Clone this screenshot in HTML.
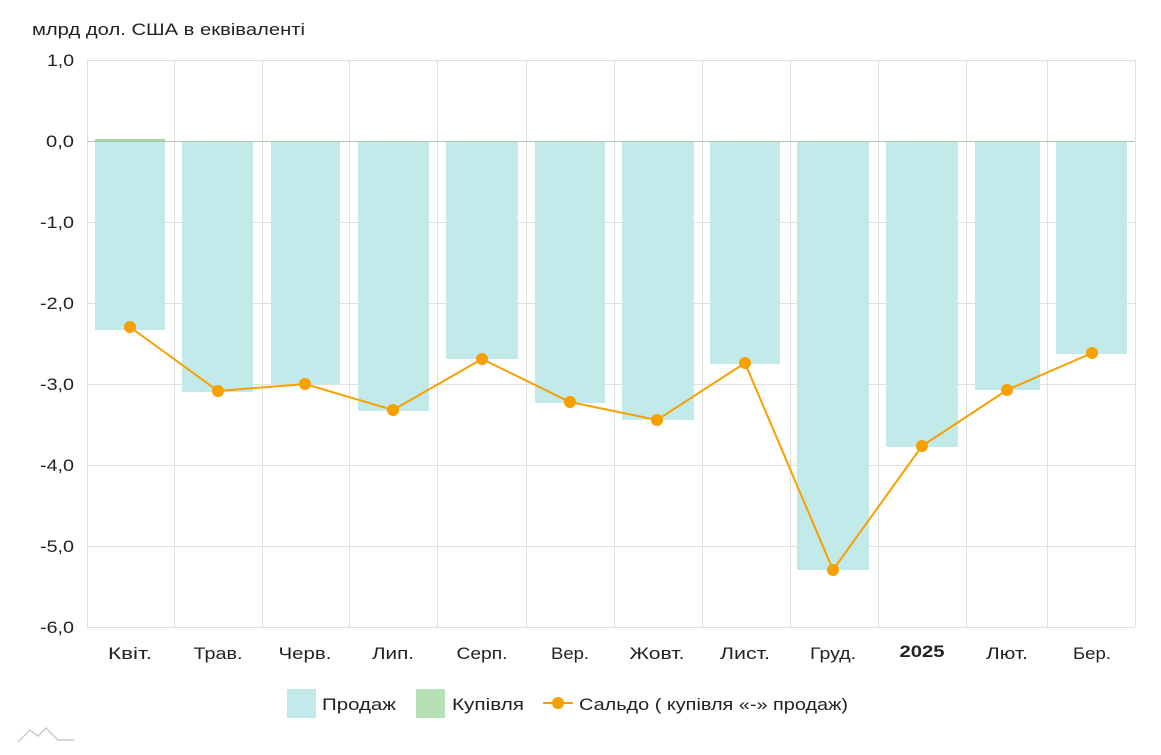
<!DOCTYPE html>
<html><head><meta charset="utf-8"><style>
body{margin:0;background:#fff;width:1161px;height:750px;overflow:hidden}
text{font-family:"Liberation Sans",sans-serif;fill:#222}
</style></head><body>
<svg width="1161" height="750" viewBox="0 0 1161 750" xmlns="http://www.w3.org/2000/svg">
<text x="32" y="35" font-size="17" textLength="273" lengthAdjust="spacingAndGlyphs">млрд дол. США в еквіваленті</text>
<g stroke="#e0e0e0" stroke-width="1">
<line x1="87" x2="1135" y1="60.5" y2="60.5"/><line x1="87" x2="1135" y1="222.5" y2="222.5"/>
<line x1="87" x2="1135" y1="303.5" y2="303.5"/><line x1="87" x2="1135" y1="384.5" y2="384.5"/>
<line x1="87" x2="1135" y1="465.5" y2="465.5"/><line x1="87" x2="1135" y1="546.5" y2="546.5"/>
<line x1="87" x2="1135" y1="627.5" y2="627.5"/>
<line x1="87.5" x2="87.5" y1="60" y2="627"/><line x1="174.5" x2="174.5" y1="60" y2="627"/>
<line x1="262.5" x2="262.5" y1="60" y2="627"/><line x1="349.5" x2="349.5" y1="60" y2="627"/>
<line x1="437.5" x2="437.5" y1="60" y2="627"/><line x1="526.5" x2="526.5" y1="60" y2="627"/>
<line x1="614.5" x2="614.5" y1="60" y2="627"/><line x1="702.5" x2="702.5" y1="60" y2="627"/>
<line x1="790.5" x2="790.5" y1="60" y2="627"/><line x1="878.5" x2="878.5" y1="60" y2="627"/>
<line x1="966.5" x2="966.5" y1="60" y2="627"/><line x1="1047.5" x2="1047.5" y1="60" y2="627"/>
<line x1="1135.5" x2="1135.5" y1="60" y2="627"/>
</g>
<g fill="#c2eaea">
<rect x="95" y="141" width="70" height="189"/><rect x="182" y="141" width="71" height="251"/>
<rect x="271" y="141" width="69" height="243"/><rect x="358" y="141" width="71" height="270"/>
<rect x="446" y="141" width="72" height="218"/><rect x="535" y="141" width="70" height="262"/>
<rect x="622" y="141" width="72" height="279"/><rect x="710" y="141" width="70" height="223"/>
<rect x="797" y="141" width="72" height="429"/><rect x="886" y="141" width="72" height="306"/>
<rect x="975" y="141" width="65" height="249"/><rect x="1056" y="141" width="71" height="213"/>
</g>
<rect x="95" y="139" width="70" height="2" fill="#a8d8a8"/>
<line x1="87" x2="1135" y1="141.5" y2="141.5" stroke="#a9c9a9" stroke-width="1"/>
<polyline fill="none" stroke="#f7a000" stroke-width="2" points="130,327 218,391 305,384 393,410 482,359 570,402 657,420 745,363 833,570 922,446 1007,390 1092,353"/>
<g fill="#f7a000">
<circle cx="130" cy="327" r="6"/><circle cx="218" cy="391" r="6"/><circle cx="305" cy="384" r="6"/><circle cx="393" cy="410" r="6"/><circle cx="482" cy="359" r="6"/><circle cx="570" cy="402" r="6"/><circle cx="657" cy="420" r="6"/><circle cx="745" cy="363" r="6"/><circle cx="833" cy="570" r="6"/><circle cx="922" cy="446" r="6"/><circle cx="1007" cy="390" r="6"/><circle cx="1092" cy="353" r="6"/>
</g>
<g font-size="17" text-anchor="end">
<text x="74" y="66" textLength="27" lengthAdjust="spacingAndGlyphs">1,0</text>
<text x="74" y="147" textLength="28" lengthAdjust="spacingAndGlyphs">0,0</text>
<text x="74" y="228" textLength="34" lengthAdjust="spacingAndGlyphs">-1,0</text>
<text x="74" y="309" textLength="34" lengthAdjust="spacingAndGlyphs">-2,0</text>
<text x="74" y="390" textLength="34" lengthAdjust="spacingAndGlyphs">-3,0</text>
<text x="74" y="471" textLength="34" lengthAdjust="spacingAndGlyphs">-4,0</text>
<text x="74" y="552" textLength="34" lengthAdjust="spacingAndGlyphs">-5,0</text>
<text x="74" y="633" textLength="34" lengthAdjust="spacingAndGlyphs">-6,0</text>
</g>
<g font-size="17" text-anchor="middle">
<text x="130" y="659" textLength="44" lengthAdjust="spacingAndGlyphs">Квіт.</text>
<text x="218" y="659" textLength="49" lengthAdjust="spacingAndGlyphs">Трав.</text>
<text x="305" y="659" textLength="53" lengthAdjust="spacingAndGlyphs">Черв.</text>
<text x="393" y="659" textLength="42" lengthAdjust="spacingAndGlyphs">Лип.</text>
<text x="482" y="659" textLength="51" lengthAdjust="spacingAndGlyphs">Серп.</text>
<text x="570" y="659" textLength="38" lengthAdjust="spacingAndGlyphs">Вер.</text>
<text x="657" y="659" textLength="55" lengthAdjust="spacingAndGlyphs">Жовт.</text>
<text x="745" y="659" textLength="50" lengthAdjust="spacingAndGlyphs">Лист.</text>
<text x="833" y="659" textLength="46" lengthAdjust="spacingAndGlyphs">Груд.</text>
<text x="922" y="657" font-weight="bold" textLength="45" lengthAdjust="spacingAndGlyphs">2025</text>
<text x="1007" y="659" textLength="42" lengthAdjust="spacingAndGlyphs">Лют.</text>
<text x="1092" y="659" textLength="38" lengthAdjust="spacingAndGlyphs">Бер.</text>
</g>
<rect x="287" y="689" width="29" height="29" fill="#c2eaea"/>
<text x="322" y="710" font-size="17" textLength="74" lengthAdjust="spacingAndGlyphs">Продаж</text>
<rect x="416" y="689" width="29" height="29" fill="#b6e0b6"/>
<text x="452" y="710" font-size="17" textLength="72" lengthAdjust="spacingAndGlyphs">Купівля</text>
<line x1="543" x2="573" y1="703" y2="703" stroke="#f7a000" stroke-width="2"/>
<circle cx="558" cy="703" r="6" fill="#f7a000"/>
<text x="579" y="710" font-size="17" textLength="269" lengthAdjust="spacingAndGlyphs">Сальдо ( купівля «-» продаж)</text>
<path d="M18 742 L30 730 L38 736 L46 728 L58 740 L74 740" fill="none" stroke="#ccc" stroke-width="1.5"/>
</svg>
</body></html>
